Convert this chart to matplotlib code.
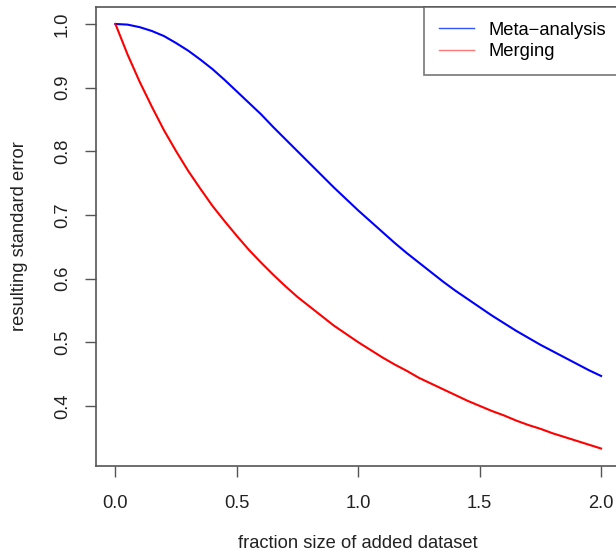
import matplotlib
matplotlib.use("Agg")
import matplotlib.pyplot as plt
from matplotlib.lines import Line2D

plt.rcParams['font.family'] = ['Liberation Sans', 'DejaVu Sans']

# fraction of the added dataset relative to the original one
fraction = [0.00, 0.05, 0.10, 0.15, 0.20, 0.25, 0.30, 0.35, 0.40, 0.45,
            0.50, 0.55, 0.60, 0.65, 0.70, 0.75, 0.80, 0.85, 0.90, 0.95,
            1.00, 1.05, 1.10, 1.15, 1.20, 1.25, 1.30, 1.35, 1.40, 1.45,
            1.50, 1.55, 1.60, 1.65, 1.70, 1.75, 1.80, 1.85, 1.90, 1.95, 2.00]

# resulting standard error, meta-analysis of the two datasets
se_meta = [1.000, 0.999, 0.995, 0.989, 0.981, 0.970, 0.958, 0.944, 0.929, 0.912,
           0.894, 0.876, 0.858, 0.838, 0.819, 0.800, 0.781, 0.762, 0.743, 0.725,
           0.707, 0.690, 0.673, 0.656, 0.640, 0.625, 0.610, 0.595, 0.581, 0.568,
           0.555, 0.542, 0.530, 0.518, 0.507, 0.496, 0.486, 0.476, 0.466, 0.456, 0.447]

# resulting standard error, datasets merged before analysis
se_merge = [1.000, 0.952, 0.909, 0.870, 0.833, 0.800, 0.769, 0.741, 0.714, 0.690,
            0.667, 0.645, 0.625, 0.606, 0.588, 0.571, 0.556, 0.541, 0.526, 0.513,
            0.500, 0.488, 0.476, 0.465, 0.455, 0.444, 0.435, 0.426, 0.417, 0.408,
            0.400, 0.392, 0.385, 0.377, 0.370, 0.364, 0.357, 0.351, 0.345, 0.339, 0.333]

xticks = [0.0, 0.5, 1.0, 1.5, 2.0]
yticks = [0.4, 0.5, 0.6, 0.7, 0.8, 0.9, 1.0]

FS = 13.2
W, H = 616, 554
fig = plt.figure(figsize=(W / 100, H / 100), dpi=100)
ax = fig.add_axes([96 / W, (H - 465.5) / H, 524.5 / W, 458.5 / H])

ax.plot(fraction, se_meta, color='#0000ff', lw=1.5)
ax.plot(fraction, se_merge, color='#ff0000', lw=1.5)

# R-style 4% padding around the data range
ymin, ymax = min(se_merge), max(se_meta)
pad = 0.04 * (ymax - ymin)
ax.set_xlim(-0.08, 2.08)
ax.set_ylim(ymin - pad, ymax + pad)

ax.set_xticks(xticks)
ax.set_xticklabels([f"{t:.1f}" for t in xticks])
ax.set_yticks(yticks)
ax.set_yticklabels([f"{t:.1f}" for t in yticks], rotation=90, va='center')

for s in ax.spines.values():
    s.set_color('#555555')
    s.set_linewidth(1.2)
ax.tick_params(direction='out', length=8, width=1, color='#555555',
               labelsize=FS, labelcolor='#222222')
ax.tick_params(axis='x', pad=13)
ax.tick_params(axis='y', pad=10)

ax.set_xlabel('fraction size of added dataset', fontsize=FS, color='#222222', labelpad=17)
ax.set_ylabel('resulting standard error', fontsize=FS, color='#222222', labelpad=19)

handles = [Line2D([], [], color='#3355ff', lw=1),
           Line2D([], [], color='#ff7777', lw=1)]
leg = ax.legend(handles, ['Meta\u2212analysis', 'Merging'], loc='upper right',
                bbox_to_anchor=(1.0, 1.0), borderaxespad=0, fancybox=False,
                fontsize=FS, handlelength=1.9, handletextpad=0.8,
                labelspacing=0.25, borderpad=0.8)
leg.get_frame().set_edgecolor('#555555')
leg.get_frame().set_linewidth(1.2)

fig.savefig('out.png', dpi=100)
